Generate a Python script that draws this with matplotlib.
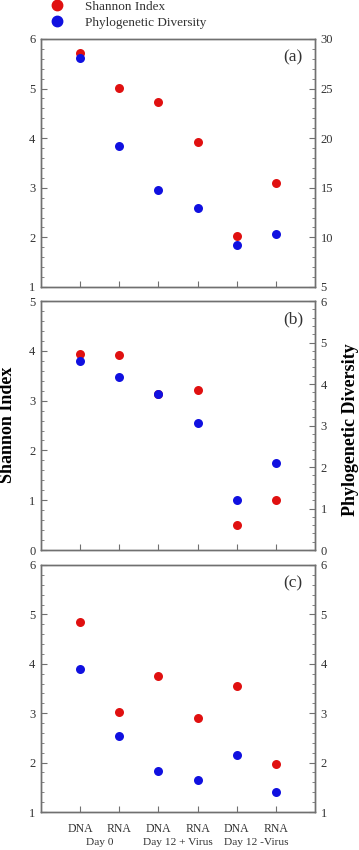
import matplotlib
matplotlib.use('Agg')
import matplotlib.pyplot as plt
from matplotlib.lines import Line2D
from matplotlib.ticker import MultipleLocator, AutoMinorLocator

plt.rcParams['font.family'] = ['Liberation Serif', 'DejaVu Serif']

samples = ['DNA', 'RNA', 'DNA', 'RNA', 'DNA', 'RNA']
groups = ['Day 0', 'Day 12 + Virus', 'Day 12 -Virus']

shannon_a = [5.71, 5.02, 4.73, 3.92, 2.03, 3.09]
pd_a = [28.1, 19.2, 14.8, 13.0, 9.2, 10.3]
shannon_b = [3.93, 3.92, 3.13, 3.22, 0.51, 1.01]
pd_b = [4.55, 4.18, 3.76, 3.06, 1.21, 2.09]
shannon_c = [4.85, 3.02, 3.76, 2.90, 3.55, 1.98]
pd_c = [3.89, 2.53, 1.82, 1.65, 2.15, 1.40]

panels = [
    ('(a)', shannon_a, pd_a, (1, 6), (5, 30), 5),
    ('(b)', shannon_b, pd_b, (0, 5), (0, 6), 1),
    ('(c)', shannon_c, pd_c, (1, 6), (1, 6), 1),
]
boxes = [(0.1142, 0.6624, 0.7632, 0.2918),
         (0.1142, 0.3529, 0.7632, 0.2929),
         (0.1142, 0.0447, 0.7632, 0.2906)]

RED = '#e01010'
BLUE = '#1010e0'
SPINE = '#707070'
TXT = '#333333'

fig = plt.figure(figsize=(3.59, 8.5), dpi=100)
x = list(range(1, len(samples) + 1))

for box, (tag, sh, pdv, lim_l, lim_r, step_r) in zip(boxes, panels):
    ax = fig.add_axes(box)
    ax2 = ax.twinx()
    ax.scatter(x, sh, s=42, color=RED, zorder=3, linewidths=0)
    ax2.scatter(x, pdv, s=42, color=BLUE, zorder=3, linewidths=0)
    ax.set_xlim(0, 7)
    ax.set_ylim(*lim_l)
    ax2.set_ylim(*lim_r)
    ax.yaxis.set_major_locator(MultipleLocator(1))
    ax.yaxis.set_minor_locator(AutoMinorLocator(5))
    ax2.yaxis.set_major_locator(MultipleLocator(step_r))
    ax2.yaxis.set_minor_locator(AutoMinorLocator(5))
    ax.set_xticks(x)
    for a in (ax, ax2):
        for s in a.spines.values():
            s.set_color(SPINE)
            s.set_linewidth(1.0)
        a.tick_params(which='both', direction='in', color=SPINE, labelcolor=TXT,
                      labelsize=9)
        a.tick_params(which='major', length=4)
        a.tick_params(which='minor', length=2)
    ax.tick_params(axis='y', pad=4)
    ax2.tick_params(axis='y', pad=4)
    if tag == '(c)':
        ax.set_xticklabels(samples)
        ax.tick_params(axis='x', pad=8, labelsize=8.5)
        for i, g in enumerate(groups):
            ax.text(1.5 + 2 * i, -0.105, g, transform=ax.get_xaxis_transform(),
                    ha='center', va='top', fontsize=8.2, color=TXT)
    else:
        ax.set_xticklabels([])
    ax.text(0.92, 0.925, tag, transform=ax.transAxes, ha='center', va='center',
            fontsize=12.5, color=TXT)

fig.text(0.022, 0.50, 'Shannon Index', rotation=90, ha='center', va='center',
         fontsize=13, fontweight='bold')
fig.text(0.976, 0.494, 'Phylogenetic Diversity', rotation=90, ha='center',
         va='center', fontsize=13, fontweight='bold')

handles = [Line2D([], [], marker='o', ls='none', color=RED, markersize=7.5),
           Line2D([], [], marker='o', ls='none', color=BLUE, markersize=7.5)]
fig.legend(handles, ['Shannon Index', 'Phylogenetic Diversity'],
           loc='upper left', bbox_to_anchor=(0.088, 1.013), frameon=False,
           fontsize=9.5, handletextpad=1.15, labelspacing=0.25, labelcolor=TXT)

fig.savefig('out.png', dpi=100)
